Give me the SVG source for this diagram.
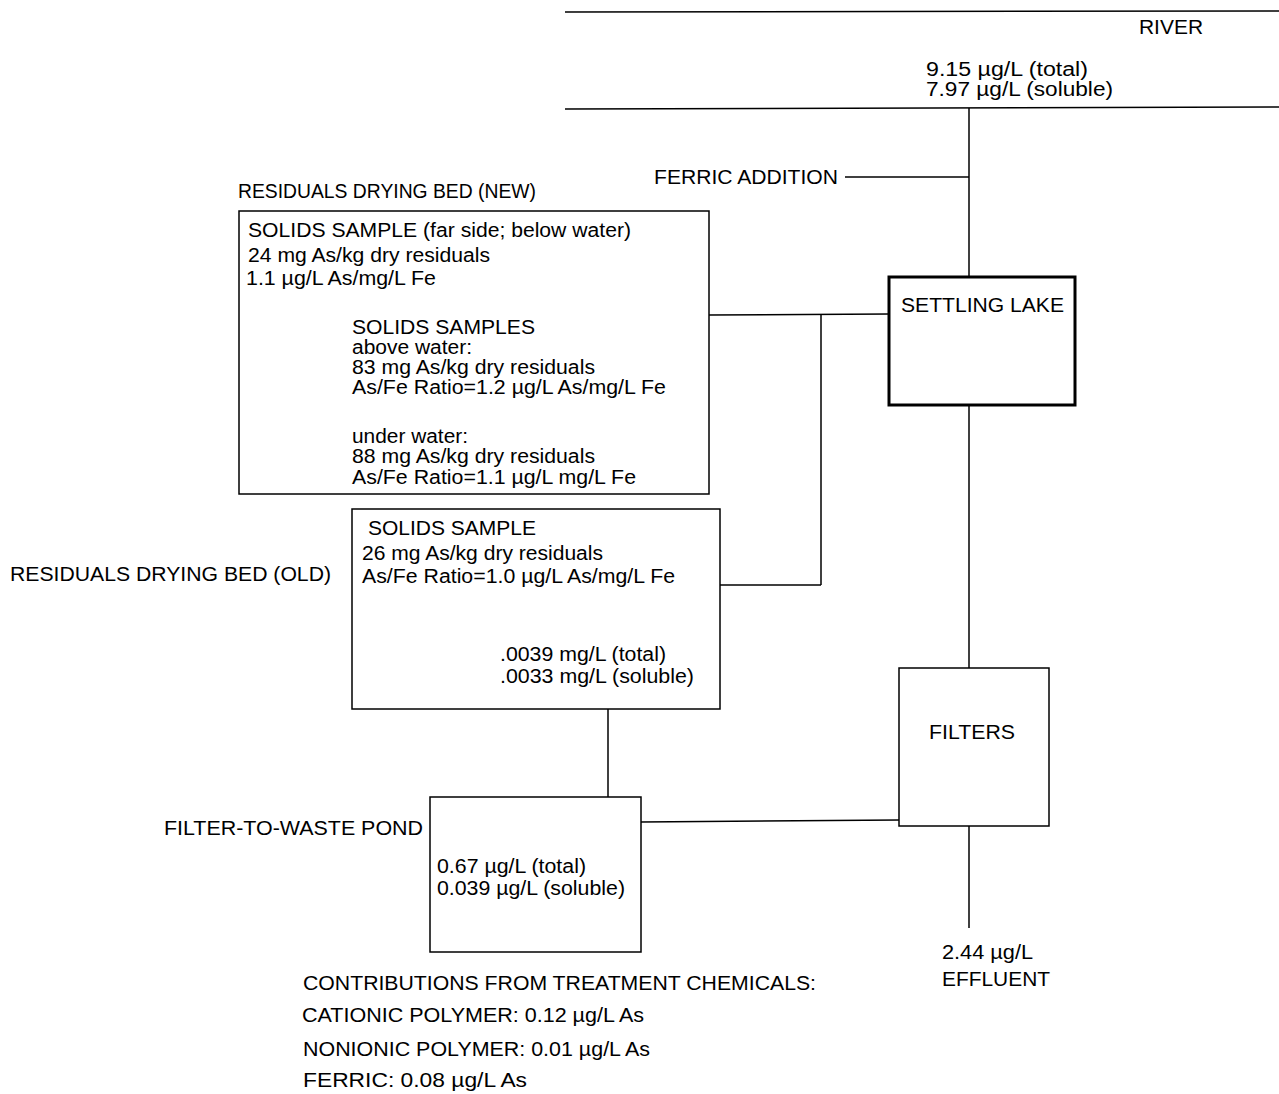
<svg xmlns="http://www.w3.org/2000/svg" width="1279" height="1094" viewBox="0 0 1279 1094">
<style>
text{font-family:"Liberation Sans",Arial,sans-serif;font-size:20px;fill:#000}
.box{fill:none;stroke:#000;stroke-width:1.5}
.thick{fill:none;stroke:#000;stroke-width:3}
.ln{stroke:#000;stroke-width:1.5;fill:none}
</style>
<rect width="1279" height="1094" fill="#fff"/>
<g id="connectors">
<line class="ln" x1="565" y1="12" x2="1279" y2="11"/>
<line class="ln" x1="565" y1="109" x2="1279" y2="107"/>
<line class="ln" x1="969" y1="108" x2="969" y2="278"/>
<line class="ln" x1="845" y1="177" x2="969" y2="177"/>
<line class="ln" x1="969" y1="405" x2="969" y2="668"/>
<line class="ln" x1="969" y1="826" x2="969" y2="928"/>
<line class="ln" x1="709" y1="315" x2="889" y2="314"/>
<line class="ln" x1="821" y1="315" x2="821" y2="585"/>
<line class="ln" x1="720" y1="585" x2="821" y2="585"/>
<line class="ln" x1="608" y1="709" x2="608" y2="797"/>
<line class="ln" x1="641" y1="822" x2="899" y2="820"/>
</g>
<g id="river">
<text x="1139" y="34" textLength="64" lengthAdjust="spacingAndGlyphs">RIVER</text>
<text x="926" y="76" textLength="162" lengthAdjust="spacingAndGlyphs">9.15 µg/L (total)</text>
<text x="926" y="96" textLength="187" lengthAdjust="spacingAndGlyphs">7.97 µg/L (soluble)</text>
</g>
<g id="ferric">
<text x="654" y="184" textLength="184" lengthAdjust="spacingAndGlyphs">FERRIC ADDITION</text>
</g>
<g id="settling-lake">
<rect class="thick" x="889" y="277" width="186" height="128"/>
<text x="901" y="312" textLength="163" lengthAdjust="spacingAndGlyphs">SETTLING LAKE</text>
</g>
<g id="drying-bed-new">
<text x="238" y="198" textLength="298" lengthAdjust="spacingAndGlyphs">RESIDUALS DRYING BED (NEW)</text>
<rect class="box" x="239" y="211" width="470" height="283"/>
<text x="248" y="237" textLength="383" lengthAdjust="spacingAndGlyphs">SOLIDS SAMPLE (far side; below water)</text>
<text x="248" y="262" textLength="242" lengthAdjust="spacingAndGlyphs">24 mg As/kg dry residuals</text>
<text x="246" y="285" textLength="190" lengthAdjust="spacingAndGlyphs">1.1 µg/L As/mg/L Fe</text>
<text x="352" y="334" textLength="183" lengthAdjust="spacingAndGlyphs">SOLIDS SAMPLES</text>
<text x="352" y="354" textLength="120" lengthAdjust="spacingAndGlyphs">above water:</text>
<text x="352" y="374" textLength="243" lengthAdjust="spacingAndGlyphs">83 mg As/kg dry residuals</text>
<text x="352" y="394" textLength="314" lengthAdjust="spacingAndGlyphs">As/Fe Ratio=1.2 µg/L As/mg/L Fe</text>
<text x="352" y="443" textLength="116" lengthAdjust="spacingAndGlyphs">under water:</text>
<text x="352" y="463" textLength="243" lengthAdjust="spacingAndGlyphs">88 mg As/kg dry residuals</text>
<text x="352" y="484" textLength="284" lengthAdjust="spacingAndGlyphs">As/Fe Ratio=1.1 µg/L mg/L Fe</text>
</g>
<g id="drying-bed-old">
<text x="10" y="581" textLength="321" lengthAdjust="spacingAndGlyphs">RESIDUALS DRYING BED (OLD)</text>
<rect class="box" x="352" y="509" width="368" height="200"/>
<text x="368" y="535" textLength="168" lengthAdjust="spacingAndGlyphs">SOLIDS SAMPLE</text>
<text x="362" y="560" textLength="241" lengthAdjust="spacingAndGlyphs">26 mg As/kg dry residuals</text>
<text x="362" y="583" textLength="313" lengthAdjust="spacingAndGlyphs">As/Fe Ratio=1.0 µg/L As/mg/L Fe</text>
<text x="500" y="661" textLength="166" lengthAdjust="spacingAndGlyphs">.0039 mg/L (total)</text>
<text x="500" y="683" textLength="194" lengthAdjust="spacingAndGlyphs">.0033 mg/L (soluble)</text>
</g>
<g id="filters">
<rect class="box" x="899" y="668" width="150" height="158"/>
<text x="929" y="739" textLength="86" lengthAdjust="spacingAndGlyphs">FILTERS</text>
</g>
<g id="filter-to-waste-pond">
<text x="164" y="835" textLength="259" lengthAdjust="spacingAndGlyphs">FILTER-TO-WASTE POND</text>
<rect class="box" x="430" y="797" width="211" height="155"/>
<text x="437" y="873" textLength="149" lengthAdjust="spacingAndGlyphs">0.67 µg/L (total)</text>
<text x="437" y="895" textLength="188" lengthAdjust="spacingAndGlyphs">0.039 µg/L (soluble)</text>
</g>
<g id="effluent">
<text x="942" y="959" textLength="91" lengthAdjust="spacingAndGlyphs">2.44 µg/L</text>
<text x="942" y="986" textLength="108" lengthAdjust="spacingAndGlyphs">EFFLUENT</text>
</g>
<g id="contributions">
<text x="303" y="990" textLength="513" lengthAdjust="spacingAndGlyphs">CONTRIBUTIONS FROM TREATMENT CHEMICALS:</text>
<text x="302" y="1022" textLength="342" lengthAdjust="spacingAndGlyphs">CATIONIC POLYMER: 0.12 µg/L As</text>
<text x="303" y="1056" textLength="347" lengthAdjust="spacingAndGlyphs">NONIONIC POLYMER: 0.01 µg/L As</text>
<text x="303" y="1087" textLength="224" lengthAdjust="spacingAndGlyphs">FERRIC: 0.08 µg/L As</text>
</g>
</svg>
